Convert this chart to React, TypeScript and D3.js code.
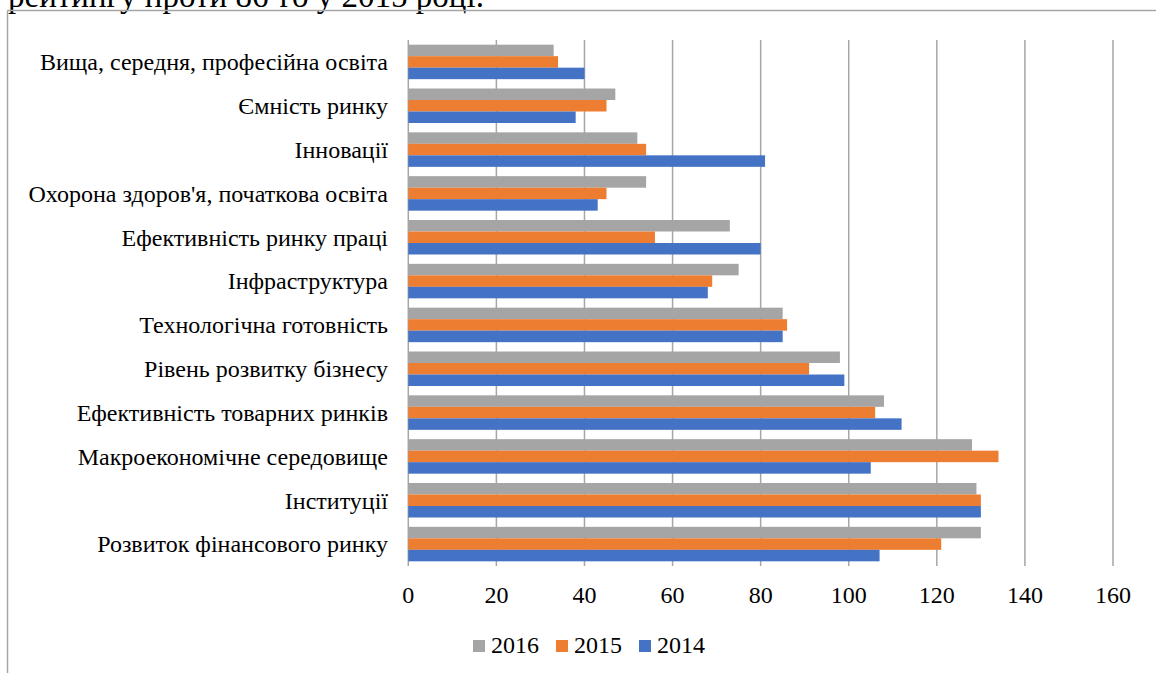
import React from 'react';
import { scaleLinear, scaleBand, range } from 'd3';

const categories = [
  'Вища, середня, професійна освіта',
  'Ємність ринку',
  'Інновації',
  "Охорона здоров'я, початкова освіта",
  'Ефективність ринку праці',
  'Інфраструктура',
  'Технологічна готовність',
  'Рівень розвитку бізнесу',
  'Ефективність товарних ринків',
  'Макроекономічне середовище',
  'Інституції',
  'Розвиток фінансового ринку'
];

const years = ['2016', '2015', '2014'];
const values2016 = [33, 47, 52, 54, 73, 75, 85, 98, 108, 128, 129, 130];
const values2015 = [34, 45, 54, 45, 56, 69, 86, 91, 106, 134, 130, 121];
const values2014 = [40, 38, 81, 43, 80, 68, 85, 99, 112, 105, 130, 107];
const xTicks = [0, 20, 40, 60, 80, 100, 120, 140, 160];

const colors = ['#a5a5a5', '#ed7d31', '#4472c4'];
const series = [values2016, values2015, values2014];

const W = 1156;
const H = 673;
const serif = "'Liberation Serif'";
const fontSize = 24;
const txt = { fontFamily: serif, fontSize };

const x = scaleLinear().domain([0, 160]).range([408.3, 1113]);
const y = scaleBand<string>()
  .domain(categories)
  .range([40, 566])
  .paddingInner(0.213)
  .paddingOuter(0.1065);
const ySub = scaleBand<string>().domain(years).range([0, y.bandwidth()]);

// legend boxes: square + label
const legendX = [473, 556, 639];

export default function App() {
  return (
    <svg
      width={W}
      height={H}
      style={{ position: 'absolute', left: 0, top: 0, background: '#fff' }}
    >
      {/* tail of the paragraph above the chart, cut by the page top */}
      <text x={8} y={7} style={{ fontFamily: serif, fontSize: 33 }} fill="#000">
        рейтингу проти 86-го у 2015 році.
      </text>
      {/* chart frame */}
      <line x1={7.5} y1={10.5} x2={W} y2={10.5} stroke="#a6a6a6" strokeWidth={1.5} />
      <line x1={7.5} y1={10.5} x2={7.5} y2={H} stroke="#a6a6a6" strokeWidth={1.5} />

      {/* gridlines */}
      {xTicks.map(t => (
        <line
          key={t}
          x1={x(t)}
          x2={x(t)}
          y1={40}
          y2={566}
          stroke="#a6a6a6"
          strokeWidth={1.5}
        />
      ))}

      {/* bars */}
      {categories.map((c, i) => (
        <g key={c} transform={`translate(0, ${y(c)})`}>
          {years.map((yr, s) => (
            <rect
              key={yr}
              x={x(0)}
              y={ySub(yr)}
              width={x(series[s][i]) - x(0)}
              height={ySub.bandwidth()}
              fill={colors[s]}
            />
          ))}
        </g>
      ))}

      {/* category labels */}
      {categories.map(c => (
        <text
          key={c}
          x={388}
          y={(y(c) as number) + y.bandwidth() / 2}
          dy="0.35em"
          textAnchor="end"
          style={txt}
          fill="#000"
        >
          {c}
        </text>
      ))}

      {/* x tick labels */}
      {xTicks.map(t => (
        <text key={t} x={x(t)} y={603} textAnchor="middle" style={txt} fill="#000">
          {t}
        </text>
      ))}

      {/* legend */}
      {range(years.length).map(s => (
        <g key={years[s]} transform={`translate(${legendX[s]}, 640)`}>
          <rect x={0} y={0} width={12} height={12} fill={colors[s]} />
          <text x={18} y={13} style={txt} fill="#000">
            {years[s]}
          </text>
        </g>
      ))}
    </svg>
  );
}
